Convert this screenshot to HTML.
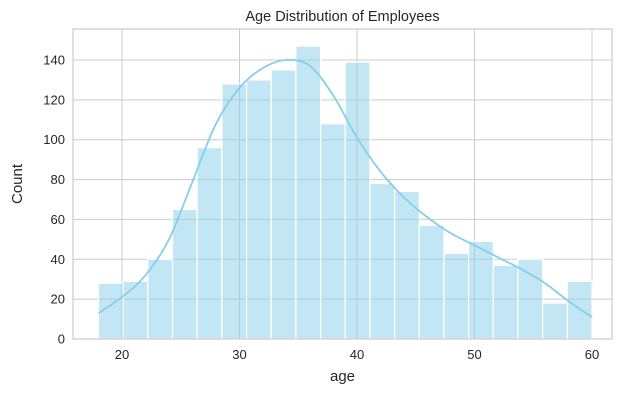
<!DOCTYPE html>
<html><head><meta charset="utf-8"><style>
body{margin:0;background:#fff;font-family:"Liberation Sans","DejaVu Sans",sans-serif;}
svg text{font-family:"Liberation Sans","DejaVu Sans",sans-serif;fill:#262626;}
</style></head><body>
<svg id="chart" width="626" height="401" viewBox="0 0 626 401" xmlns="http://www.w3.org/2000/svg">
<g id="grid"></g><g id="bars"></g><g id="kde"></g><g id="axes"></g>
</svg>
<script>
const binCounts=[28,29,40,65,96,128,130,135,147,108,139,78,74,57,43,49,37,40,18,29];
const binStart=18, binEnd=60;
const kdeAges=[18,20,22,24,26,28,30,32,34,36,38,40,42,44,46,48,50,52,54,56,58,60];
const kdeVals=[13,21,32,50,79,108,126,136,140,137,122,101,84,71,61,53,47,41,35,28,19,11];
const xTicks=[20,30,40,50,60];
const yTicks=[0,20,40,60,80,100,120,140];
const L=73,R=612,T=29,B=339;
const x=v=>122+(v-20)*11.75;
const y=v=>339-v*(279/140);
const NS="http://www.w3.org/2000/svg";
function mk(tag,attrs,parent){const e=document.createElementNS(NS,tag);for(const k in attrs)e.setAttribute(k,attrs[k]);parent.appendChild(e);return e;}
const grid=document.getElementById('grid'),bars=document.getElementById('bars'),kde=document.getElementById('kde'),axes=document.getElementById('axes');
xTicks.forEach(t=>{const l=mk('line',{x1:x(t),x2:x(t),y1:T,y2:B,stroke:'#cccccc','stroke-width':1},grid);


const tx=mk('text',{x:x(t),y:B+20,'text-anchor':'middle','font-size':13},axes);tx.textContent=t;

});
yTicks.forEach(t=>{const l=mk('line',{x1:L,x2:R,y1:y(t),y2:y(t),stroke:'#cccccc','stroke-width':1},grid);


const tx=mk('text',{x:L-8,y:y(t)+4.5,'text-anchor':'end','font-size':13},axes);tx.textContent=t;

});
const bw=(binEnd-binStart)/binCounts.length;
binCounts.forEach((c,i)=>{const x0=x(binStart+i*bw),x1=x(binStart+(i+1)*bw);
const r=mk('rect',{x:x0,y:y(c),width:x1-x0,height:y(0)-y(c),fill:'rgba(135,206,235,0.5)',stroke:'#ffffff','stroke-width':1.2},bars);

});
const pts=kdeAges.map((a,i)=>[x(a),y(kdeVals[i])]);
let d='M'+pts[0][0].toFixed(1)+','+pts[0][1].toFixed(1);
for(let i=0;i<pts.length-1;i++){const p0=pts[Math.max(0,i-1)],p1=pts[i],p2=pts[i+1],p3=pts[Math.min(pts.length-1,i+2)];
const c1=[p1[0]+(p2[0]-p0[0])/6,p1[1]+(p2[1]-p0[1])/6],c2=[p2[0]-(p3[0]-p1[0])/6,p2[1]-(p3[1]-p1[1])/6];
d+='C'+c1.map(v=>v.toFixed(1)).join(',')+' '+c2.map(v=>v.toFixed(1)).join(',')+' '+p2.map(v=>v.toFixed(1)).join(',');}
const p=mk('path',{d:d,fill:'none',stroke:'#87ceeb','stroke-width':1.8,'stroke-linejoin':'round'},kde);


const f=mk('rect',{x:L,y:T,width:R-L,height:B-T,fill:'none',stroke:'#cccccc','stroke-width':1.2},axes);


const ti=mk('text',{x:(L+R)/2,y:T-8,'text-anchor':'middle','font-size':14.5},axes);ti.textContent='Age Distribution of Employees';


const xl=mk('text',{x:(L+R)/2,y:B+42,'text-anchor':'middle','font-size':15},axes);xl.textContent='age';


const yl=mk('text',{x:22,y:(T+B)/2,'text-anchor':'middle','font-size':15,transform:'rotate(-90 22 '+(T+B)/2+')'},axes);yl.textContent='Count';


</script>
</body></html>
